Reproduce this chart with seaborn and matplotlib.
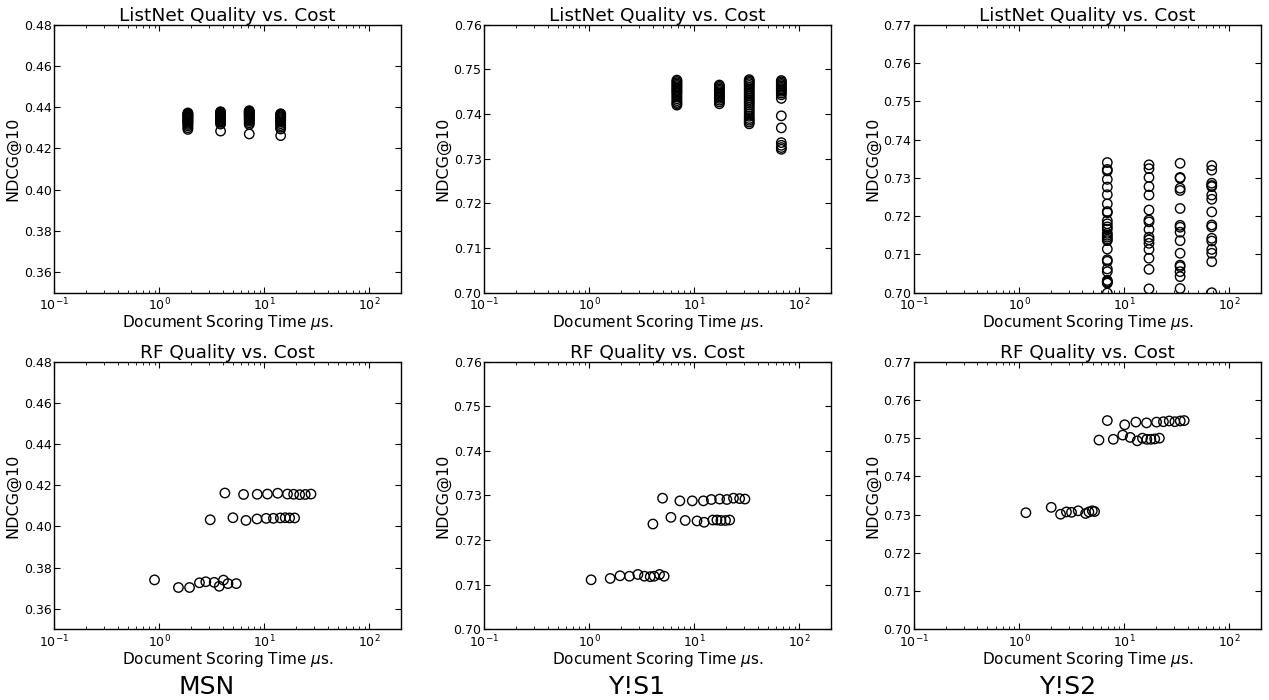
import numpy as np
import pandas as pd
import matplotlib
matplotlib.use("Agg")
import matplotlib.pyplot as plt
import seaborn as sns
from matplotlib.ticker import MultipleLocator, LogLocator

datasets = ["MSN", "Y!S1", "Y!S2"]

# ListNet: four model sizes per dataset, several runs each
listnet_msn_x = [1.87, 3.83, 7.18, 14.3]
listnet_msn_y = [
    [0.4372, 0.4369, 0.4366, 0.4362, 0.4358, 0.4355, 0.4351, 0.4347, 0.4343,
     0.4339, 0.4335, 0.4331, 0.4327, 0.4322, 0.4316, 0.4309, 0.4300, 0.4292],
    [0.4378, 0.4375, 0.4372, 0.4369, 0.4366, 0.4362, 0.4358, 0.4354, 0.4350,
     0.4346, 0.4342, 0.4337, 0.4332, 0.4326, 0.4318, 0.4284],
    [0.4383, 0.4380, 0.4377, 0.4374, 0.4371, 0.4368, 0.4364, 0.4360, 0.4356,
     0.4352, 0.4348, 0.4343, 0.4338, 0.4332, 0.4324, 0.4316, 0.4270],
    [0.4368, 0.4365, 0.4361, 0.4357, 0.4353, 0.4349, 0.4344, 0.4339, 0.4334,
     0.4328, 0.4320, 0.4311, 0.4302, 0.4294, 0.4262],
]

listnet_ys1_x = [6.82, 17.3, 33.3, 67.3]
listnet_ys1_y = [
    [0.7476, 0.7473, 0.7470, 0.7467, 0.7464, 0.7461, 0.7458, 0.7455, 0.7452,
     0.7449, 0.7446, 0.7442, 0.7438, 0.7434, 0.7430, 0.7426, 0.7423, 0.7420],
    [0.7465, 0.7462, 0.7459, 0.7456, 0.7453, 0.7450, 0.7447, 0.7444, 0.7441,
     0.7438, 0.7435, 0.7431, 0.7427, 0.7423],
    [0.7477, 0.7474, 0.7471, 0.7468, 0.7464, 0.7460, 0.7456, 0.7452, 0.7448,
     0.7444, 0.7440, 0.7436, 0.7432, 0.7428, 0.7424, 0.7420, 0.7415, 0.7410,
     0.7405, 0.7400, 0.7395, 0.7390, 0.7386, 0.7382, 0.7378],
    [0.7475, 0.7472, 0.7469, 0.7466, 0.7463, 0.7460, 0.7457, 0.7454, 0.7451,
     0.7447, 0.7443, 0.7435, 0.7396, 0.7369, 0.7336, 0.7330, 0.7325, 0.7321],
]

listnet_ys2_x = [6.9, 17.2, 34.0, 68.0]
listnet_ys2_y = [
    [0.7340, 0.7322, 0.7318, 0.7296, 0.7276, 0.7256, 0.7232, 0.7212, 0.7209,
     0.7188, 0.7180, 0.7172, 0.7166, 0.7155, 0.7150, 0.7145, 0.7140, 0.7136,
     0.7114, 0.7086, 0.7082, 0.7062, 0.7055, 0.7032, 0.7029, 0.7027, 0.7025,
     0.6999],
    [0.7334, 0.7324, 0.7301, 0.7277, 0.7255, 0.7216, 0.7190, 0.7185, 0.7165,
     0.7145, 0.7138, 0.7129, 0.7113, 0.7090, 0.7061, 0.7010],
    [0.7338, 0.7301, 0.7299, 0.7273, 0.7267, 0.7220, 0.7176, 0.7171, 0.7158,
     0.7136, 0.7103, 0.7072, 0.7068, 0.7055, 0.7042, 0.7011],
    [0.7332, 0.7320, 0.7286, 0.7280, 0.7277, 0.7255, 0.7244, 0.7211, 0.7177,
     0.7172, 0.7142, 0.7135, 0.7113, 0.7103, 0.7081, 0.7000],
]

# RF: scoring time vs NDCG@10
rf_msn_x = [4.21, 6.34, 8.55, 10.7, 13.4, 16.6, 19.0, 21.7, 24.5, 27.8,
            3.05, 5.02, 6.68, 8.51, 10.4, 12.2, 14.2, 15.8, 17.4, 19.4,
            0.90, 1.52, 1.94, 2.41, 2.77, 3.33, 3.72, 4.08, 4.50, 5.40]
rf_msn_y = [0.4162, 0.4155, 0.4156, 0.4157, 0.4161, 0.4157, 0.4156, 0.4154, 0.4155, 0.4157,
            0.4032, 0.4042, 0.4029, 0.4036, 0.4039, 0.4039, 0.4041, 0.4042, 0.4041, 0.4041,
            0.3740, 0.3703, 0.3703, 0.3726, 0.3731, 0.3728, 0.3709, 0.3739, 0.3722, 0.3722]

rf_ys1_x = [4.98, 7.28, 9.55, 12.2, 14.5, 17.4, 20.4, 23.6, 27.0, 30.3,
            4.03, 5.98, 8.18, 10.6, 12.4, 15.0, 16.4, 17.9, 19.8, 21.7,
            1.04, 1.58, 1.96, 2.41, 2.90, 3.35, 3.80, 4.14, 4.66, 5.16]
rf_ys1_y = [0.7294, 0.7288, 0.7288, 0.7288, 0.7291, 0.7292, 0.7291, 0.7294, 0.7293, 0.7292,
            0.7236, 0.7251, 0.7244, 0.7243, 0.7240, 0.7245, 0.7245, 0.7244, 0.7244, 0.7245,
            0.7111, 0.7114, 0.7120, 0.7119, 0.7123, 0.7119, 0.7118, 0.7119, 0.7123, 0.7119]

rf_ys2_x = [6.90, 10.1, 12.9, 16.3, 20.3, 23.6, 26.8, 30.3, 34.1, 37.2,
            5.75, 7.87, 9.67, 11.4, 13.3, 14.9, 16.4, 17.9, 19.5, 21.6,
            1.16, 2.02, 2.48, 2.82, 3.15, 3.65, 4.29, 4.61, 4.97, 5.22]
rf_ys2_y = [0.7546, 0.7535, 0.7542, 0.7540, 0.7542, 0.7543, 0.7545, 0.7543, 0.7545, 0.7546,
            0.7495, 0.7497, 0.7508, 0.7502, 0.7493, 0.7500, 0.7497, 0.7497, 0.7498, 0.7500,
            0.7305, 0.7319, 0.7301, 0.7307, 0.7306, 0.7310, 0.7303, 0.7307, 0.7310, 0.7308]

ylims = [(0.35, 0.48), (0.70, 0.76), (0.70, 0.77)]
ysteps = [0.02, 0.01, 0.01]


def listnet_frame(xs, cols):
    rows = [(x, v) for x, col in zip(xs, cols) for v in col]
    return pd.DataFrame(rows, columns=["time", "ndcg"])


listnet = [listnet_frame(listnet_msn_x, listnet_msn_y),
           listnet_frame(listnet_ys1_x, listnet_ys1_y),
           listnet_frame(listnet_ys2_x, listnet_ys2_y)]
rf = [pd.DataFrame({"time": rf_msn_x, "ndcg": rf_msn_y}),
      pd.DataFrame({"time": rf_ys1_x, "ndcg": rf_ys1_y}),
      pd.DataFrame({"time": rf_ys2_x, "ndcg": rf_ys2_y})]

sns.set_style("ticks")
plt.rcParams.update({
    "font.family": ["DejaVu Sans"],
    "xtick.direction": "in",
    "ytick.direction": "in",
    "xtick.top": True,
    "ytick.right": True,
    "axes.edgecolor": "black",
    "axes.linewidth": 1.0,
    "xtick.color": "black",
    "ytick.color": "black",
    "text.color": "black",
    "axes.labelcolor": "black",
})

W, H = 1269, 700
fig = plt.figure(figsize=(W / 100, H / 100), dpi=100)

lefts = [54.3, 484.3, 914]
rights = [401, 831, 1261]
rows_px = [(24.7, 292.7), (361.7, 629.3)]
titles = ["ListNet Quality vs. Cost", "RF Quality vs. Cost"]

for r, (top, bottom) in enumerate(rows_px):
    for c in range(3):
        ax = fig.add_axes([lefts[c] / W, 1 - bottom / H,
                           (rights[c] - lefts[c]) / W, (bottom - top) / H])
        df = listnet[c] if r == 0 else rf[c]
        sns.scatterplot(data=df, x="time", y="ndcg", ax=ax, marker="o",
                        s=46, facecolors="none", edgecolor="black",
                        linewidth=1.0, clip_on=True)
        ax.set_xscale("log")
        ax.set_xlim(0.1, 200)
        ax.set_ylim(*ylims[c])
        ax.yaxis.set_major_locator(MultipleLocator(ysteps[c]))
        ax.yaxis.set_major_formatter(plt.FormatStrFormatter("%.2f"))
        ax.xaxis.set_major_locator(LogLocator(base=10))
        ax.xaxis.set_minor_locator(LogLocator(base=10, subs=np.arange(2, 10)))
        ax.tick_params(which="major", length=4, width=0.8, labelsize=9)
        ax.tick_params(axis="x", which="major", pad=3)
        ax.tick_params(axis="y", which="major", pad=2)
        ax.tick_params(which="minor", length=2, width=0.6)
        ax.set_title(titles[r], fontsize=13.3, pad=1.5)
        ax.set_xlabel(r"Document Scoring Time $\mu$s.", fontsize=11, labelpad=0)
        ax.set_ylabel("NDCG@10", fontsize=11.5, labelpad=2)
        for sp in ax.spines.values():
            sp.set_visible(True)
            sp.set_color("black")

label_x = [207, 637, 1068]
for name, lx in zip(datasets, label_x):
    fig.text(lx / W, 1 - 687 / H, name, fontsize=18, ha="center", va="center")

fig.savefig("out.png", dpi=100)
